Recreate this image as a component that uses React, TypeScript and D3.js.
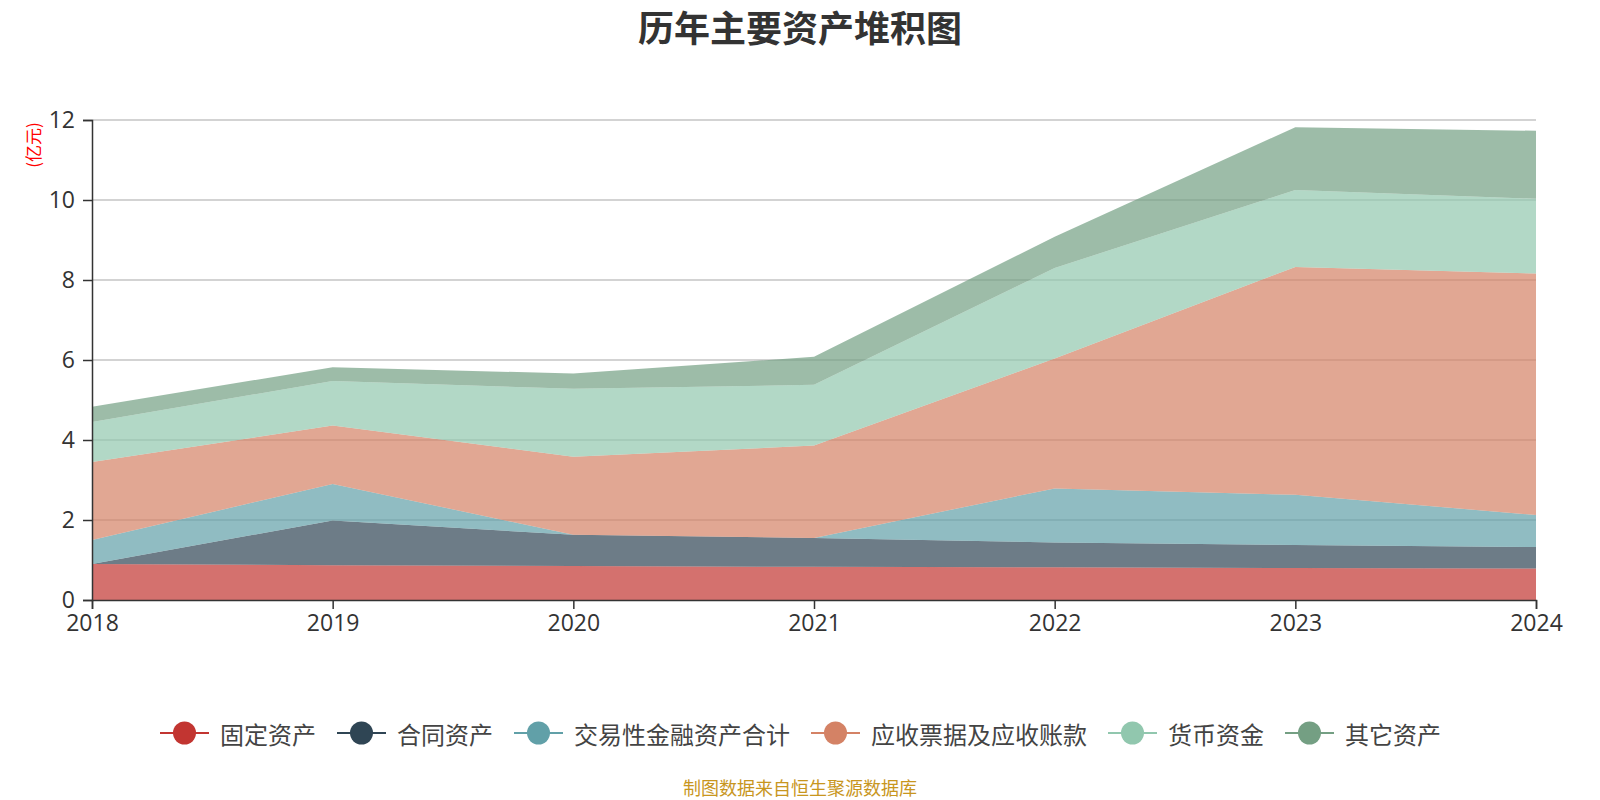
import React, { useEffect, useRef } from 'react';
import * as d3 from 'd3';

const years = ['2018', '2019', '2020', '2021', '2022', '2023', '2024'];
const seriesNames = ['固定资产', '合同资产', '交易性金融资产合计', '应收票据及应收账款', '货币资金', '其它资产'];
const fixedAssets = [0.9, 0.87, 0.85, 0.83, 0.82, 0.8, 0.79];
const contractAssets = [0, 1.12, 0.78, 0.72, 0.62, 0.575, 0.535];
const tradingAssets = [0.6, 0.91, 0, 0, 1.35, 1.255, 0.8];
const receivables = [1.95, 1.46, 1.95, 2.31, 3.25, 5.695, 6.035];
const cashFunds = [1.0, 1.115, 1.7, 1.52, 2.26, 1.925, 1.87];
const otherAssets = [0.38, 0.345, 0.38, 0.7, 0.78, 1.57, 1.7];
const yTicks = [0, 2, 4, 6, 8, 10, 12];

const colors = ['#c23531', '#2f4554', '#61a0a8', '#d48265', '#91c7ae', '#749f83'];
const font = '"Noto Sans CJK SC", "Noto Sans", sans-serif';
const numFont = '"Open Sans", "Noto Sans", sans-serif';

const App = () => {
  const ref = useRef<SVGSVGElement>(null);

  useEffect(() => {
    document.body.style.margin = '0';
    const svg = d3.select(ref.current);
    svg.selectAll('*').remove();

    const values = [fixedAssets, contractAssets, tradingAssets, receivables, cashFunds, otherAssets];
    const rows = years.map((y, i) => {
      const r: any = { year: y };
      seriesNames.forEach((n, k) => (r[n] = values[k][i]));
      return r;
    });

    const left = 92;
    const right = 1536;
    const top = 120;
    const bottom = 600;

    const x = d3.scalePoint<string>().domain(years).range([left, right]);
    const y = d3.scaleLinear().domain([0, 12]).range([bottom, top]);

    // title
    svg
      .append('text')
      .attr('x', 800)
      .attr('y', 26)
      .attr('text-anchor', 'middle')
      .attr('dominant-baseline', 'central')
      .style('font-family', font)
      .style('font-size', '36px')
      .style('font-weight', 'bold')
      .style('fill', '#333')
      .text('历年主要资产堆积图');

    // grid
    svg
      .append('g')
      .selectAll('line')
      .data(yTicks.filter((t) => t > 0))
      .enter()
      .append('line')
      .attr('x1', left)
      .attr('x2', right)
      .attr('y1', (d) => y(d))
      .attr('y2', (d) => y(d))
      .attr('stroke', '#c4c4c4')
      .attr('stroke-width', 1.5);

    // stacked areas
    const stack = d3.stack<any>().keys(seriesNames);
    const layers = stack(rows);
    const area = d3
      .area<any>()
      .x((d) => x(d.data.year) as number)
      .y0((d) => y(d[0]))
      .y1((d) => y(d[1]));

    svg
      .append('g')
      .selectAll('path')
      .data(layers)
      .enter()
      .append('path')
      .attr('d', (d) => area(d))
      .attr('fill', (d, i) => colors[i])
      .attr('fill-opacity', 0.7);

    // y axis
    const yAxis = svg
      .append('g')
      .attr('transform', `translate(${left},0)`)
      .call(d3.axisLeft(y).tickValues(yTicks).tickSize(9).tickPadding(8));
    yAxis.select('.domain').attr('stroke', '#333').attr('stroke-width', 1.5);
    yAxis.selectAll('.tick line').attr('stroke', '#333').attr('stroke-width', 1.5);
    yAxis
      .selectAll('.tick text')
      .style('font-family', numFont)
      .style('font-size', '23px')
      .style('fill', '#333');

    // x axis
    const xAxis = svg
      .append('g')
      .attr('transform', `translate(0,${bottom})`)
      .call(d3.axisBottom(x).tickSize(9).tickPadding(6));
    xAxis.select('.domain').attr('stroke', '#333').attr('stroke-width', 1.5);
    xAxis.selectAll('.tick line').attr('stroke', '#333').attr('stroke-width', 1.5);
    xAxis
      .selectAll('.tick text')
      .style('font-family', numFont)
      .style('font-size', '23px')
      .style('fill', '#333');

    // unit label
    svg
      .append('text')
      .attr('transform', 'translate(32,145) rotate(-90)')
      .attr('text-anchor', 'middle')
      .attr('dominant-baseline', 'central')
      .style('font-family', font)
      .style('font-size', '17px')
      .style('fill', 'red')
      .text('(亿元)');

    // legend
    const legend = svg.append('g');
    let cx = 0;
    seriesNames.forEach((n, i) => {
      const item = legend.append('g').attr('transform', `translate(${cx},0)`);
      item
        .append('line')
        .attr('x1', 0)
        .attr('x2', 49)
        .attr('y1', 0)
        .attr('y2', 0)
        .attr('stroke', colors[i])
        .attr('stroke-width', 2);
      item.append('circle').attr('cx', 24.5).attr('cy', 0).attr('r', 11.5).attr('fill', colors[i]);
      const t = item
        .append('text')
        .attr('x', 60)
        .attr('y', 0)
        .attr('dominant-baseline', 'central')
        .style('font-family', font)
        .style('font-size', '24px')
        .style('fill', '#444')
        .text(n);
      const w = (t.node() as SVGTextElement).getComputedTextLength();
      cx += 60 + w + 21;
    });
    const total = cx - 21;
    legend.attr('transform', `translate(${800.5 - total / 2},733)`);

    // footer
    svg
      .append('text')
      .attr('x', 800)
      .attr('y', 787)
      .attr('text-anchor', 'middle')
      .attr('dominant-baseline', 'central')
      .style('font-family', font)
      .style('font-size', '18px')
      .style('fill', '#c8961e')
      .text('制图数据来自恒生聚源数据库');
  }, []);

  return <svg ref={ref} width={1600} height={800} style={{ display: 'block' }} />;
};

export default App;
